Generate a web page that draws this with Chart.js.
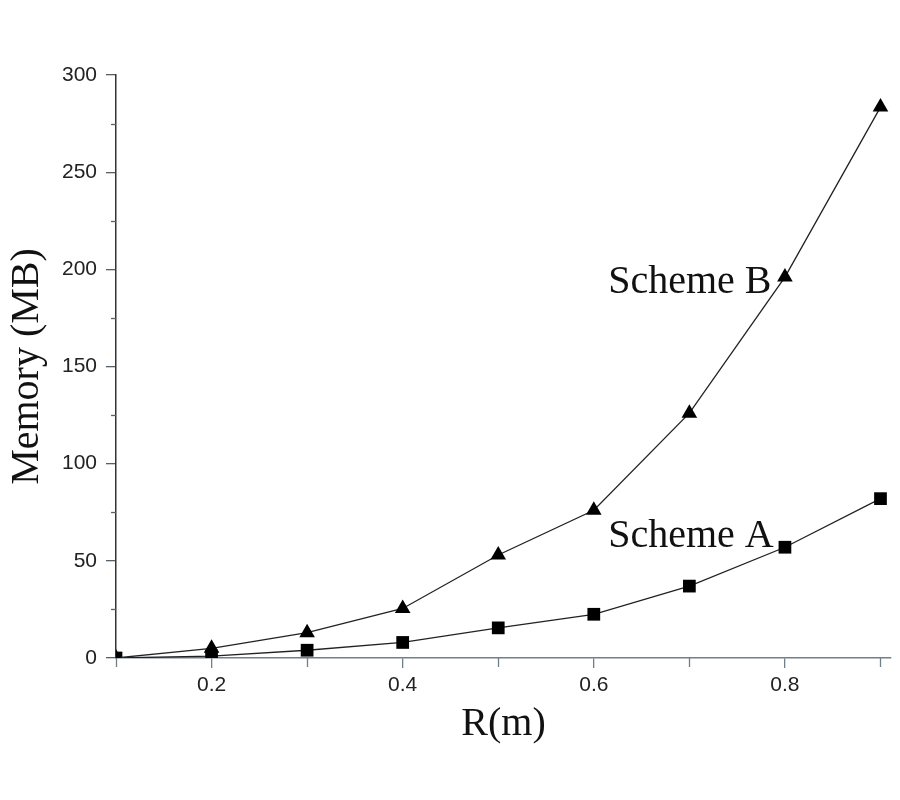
<!DOCTYPE html>
<html>
<head>
<meta charset="utf-8">
<script src="https://cdn.jsdelivr.net/npm/chart.js@4"></script>
<style>
  html, body { margin: 0; padding: 0; background: #fff; }
  #wrap { width: 900px; height: 800px; }
</style>
</head>
<body>
<div id="wrap"><canvas id="memChart" width="900" height="800"></canvas></div>
<script>
// data
var radius = [0.1, 0.2, 0.3, 0.4, 0.5, 0.6, 0.7, 0.8, 0.9];
var schemeA = [0, 1, 4, 8, 15.5, 22.5, 37, 57, 82];
var schemeB = [0, 5, 13, 25.5, 53, 76, 126, 196, 283.5];
var xTicks = [0.2, 0.4, 0.6, 0.8];
var xMinor = [0.1, 0.3, 0.5, 0.7, 0.9];
var yTicks = [0, 50, 100, 150, 200, 250, 300];
var yMinor = [25, 75, 125, 175, 225, 275];
var labelA = { text: 'Scheme A', x: 0.615, y: 57 };
var labelB = { text: 'Scheme B', x: 0.615, y: 188 };

function pts(xs, ys) {
    return xs.map(function (x, i) { return { x: x, y: ys[i] }; });
}

// minor ticks, axis titles and the two curve labels
var extras = {
    id: 'extras',
    afterDraw: function (chart) {
        var ctx = chart.ctx;
        var xs = chart.scales.x, ys = chart.scales.y;
        var area = chart.chartArea;
        ctx.save();
        ctx.lineWidth = 1.3;
        ctx.strokeStyle = '#6f8088';
        xMinor.forEach(function (v) {
            var px = Math.round(xs.getPixelForValue(v)) + 0.5;
            ctx.beginPath();
            ctx.moveTo(px, area.bottom);
            ctx.lineTo(px, area.bottom + 9);
            ctx.stroke();
        });
        ctx.strokeStyle = '#556068';
        yMinor.forEach(function (v) {
            var py = Math.round(ys.getPixelForValue(v)) + 0.5;
            ctx.beginPath();
            ctx.moveTo(area.left, py);
            ctx.lineTo(area.left - 5, py);
            ctx.stroke();
        });

        ctx.fillStyle = '#111';
        ctx.font = '40px "Liberation Serif", "Times New Roman", serif';
        ctx.textAlign = 'left';
        ctx.textBaseline = 'alphabetic';
        [labelA, labelB].forEach(function (l) {
            ctx.fillText(l.text, xs.getPixelForValue(l.x), ys.getPixelForValue(l.y));
        });

        ctx.textAlign = 'center';
        ctx.fillText('R(m)', (area.left + area.right) / 2, 735);
        ctx.translate(38, (area.top + area.bottom) / 2);
        ctx.rotate(-Math.PI / 2);
        ctx.fillText('Memory (MB)', 0, 0);
        ctx.restore();
    }
};

var tickFont = { family: '"Liberation Sans", Arial, sans-serif', size: 21 };

new Chart(document.getElementById('memChart'), {
    type: 'line',
    data: {
        datasets: [{
            label: 'Scheme B',
            data: pts(radius, schemeB),
            borderColor: '#222',
            borderWidth: 1.3,
            backgroundColor: '#000',
            pointStyle: 'triangle',
            pointRadius: 9,
            pointBorderWidth: 0,
            pointBackgroundColor: '#000'
        }, {
            label: 'Scheme A',
            data: pts(radius, schemeA),
            borderColor: '#222',
            borderWidth: 1.3,
            backgroundColor: '#000',
            pointStyle: 'rect',
            pointRadius: 9,
            pointBorderWidth: 0,
            pointBackgroundColor: '#000'
        }]
    },
    options: {
        responsive: false,
        animation: false,
        layout: { padding: { left: 0, right: 6, top: 75, bottom: 0 } },
        plugins: {
            legend: { display: false },
            tooltip: { enabled: false }
        },
        scales: {
            x: {
                type: 'linear',
                min: 0.1,
                max: 0.911,
                afterBuildTicks: function (s) {
                    s.ticks = xTicks.map(function (v) { return { value: v }; });
                },
                afterFit: function (s) { s.height = 142; },
                border: { display: true, color: '#6f8088', width: 1.5 },
                grid: { drawOnChartArea: false, drawTicks: true, tickLength: 10, color: '#6f8088', lineWidth: 1.3 },
                ticks: {
                    font: tickFont,
                    color: '#222',
                    padding: 5,
                    maxRotation: 0,
                    callback: function (v) { return v.toFixed(1); }
                }
            },
            y: {
                type: 'linear',
                min: 0,
                max: 300,
                afterBuildTicks: function (s) {
                    s.ticks = yTicks.map(function (v) { return { value: v }; });
                },
                afterFit: function (s) { s.width = 116; },
                border: { display: true, color: '#333', width: 1.5 },
                grid: { drawOnChartArea: false, drawTicks: true, tickLength: 10, color: '#556068', lineWidth: 1.3 },
                ticks: {
                    font: tickFont,
                    color: '#222',
                    padding: 9
                }
            }
        }
    },
    plugins: [extras]
});
</script>
</body>
</html>
